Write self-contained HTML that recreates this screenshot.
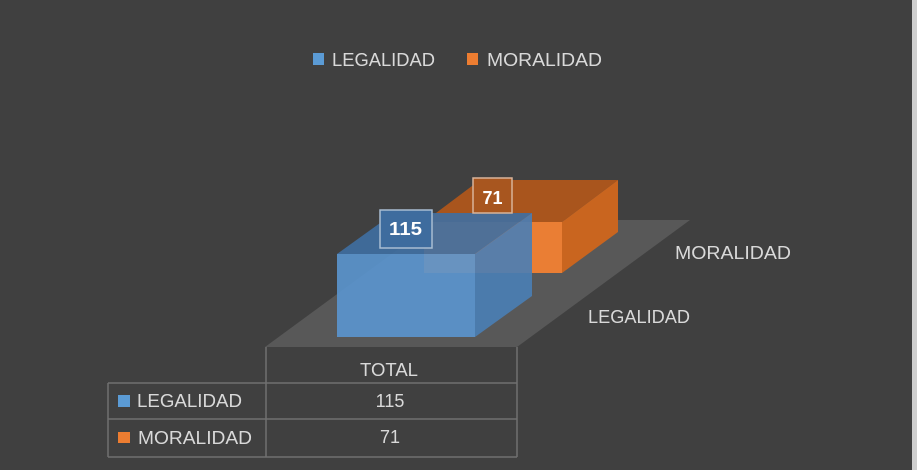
<!DOCTYPE html>
<html><head><meta charset="utf-8"><style>
html,body{margin:0;padding:0;background:#404040;}
svg{display:block;}
text{font-family:"Liberation Sans",sans-serif;}
</style></head><body>
<svg width="917" height="470" viewBox="0 0 917 470" xmlns="http://www.w3.org/2000/svg">
<rect x="0" y="0" width="917" height="470" fill="#404040"/>
<rect x="912" y="0" width="5" height="470" fill="#cfcfcf"/>

<!-- legend -->
<rect x="313" y="53" width="11" height="12" fill="#5b9bd5"/>
<text x="332" y="66" font-size="18" fill="#d9d9d9" textLength="103" lengthAdjust="spacingAndGlyphs">LEGALIDAD</text>
<rect x="467" y="53" width="11" height="12" fill="#ed7d31"/>
<text x="487" y="66" font-size="18" fill="#d9d9d9" textLength="115" lengthAdjust="spacingAndGlyphs">MORALIDAD</text>

<!-- floor -->
<polygon points="265,347 517,347 690,220 438,220" fill="#585858"/>

<!-- orange box -->
<polygon points="424,222 562,222 618,180 480,180" fill="#a9551d"/>
<polygon points="562,222 618,180 618,232 562,273" fill="#c9651f"/>
<rect x="424" y="222" width="138" height="51" fill="#ea7e34"/>

<!-- blue box (semi transparent) -->
<g opacity="0.9">
<polygon points="337,254 475,254 532,213 394,213" fill="#3f6fa2"/>
<polygon points="475,254 532,213 532,296 475,337" fill="#4a7fb6"/>
<rect x="337" y="254" width="138" height="83" fill="#5b96d0"/>
</g>

<!-- data labels -->
<rect x="473" y="178" width="39" height="35" fill="#a8561f" stroke="#d9b49a" stroke-width="1.5"/>
<text x="492.5" y="204" font-size="18" font-weight="bold" fill="#ffffff" text-anchor="middle">71</text>
<rect x="380" y="210" width="52" height="38" fill="#3e6c9e" stroke="#a9bdd2" stroke-width="1.5"/>
<text x="405.5" y="235" font-size="18" font-weight="bold" fill="#ffffff" text-anchor="middle" textLength="33" lengthAdjust="spacingAndGlyphs">115</text>

<!-- category labels -->
<text x="675" y="259" font-size="18" fill="#d9d9d9" textLength="116" lengthAdjust="spacingAndGlyphs">MORALIDAD</text>
<text x="588" y="323" font-size="18" fill="#d9d9d9" textLength="102" lengthAdjust="spacingAndGlyphs">LEGALIDAD</text>

<!-- table -->
<g stroke="#707070" stroke-width="1.5" fill="none">
<line x1="266" y1="347" x2="266" y2="457"/>
<line x1="517" y1="347" x2="517" y2="457"/>
<line x1="108" y1="383" x2="108" y2="457"/>
<line x1="108" y1="383" x2="517" y2="383"/>
<line x1="108" y1="419" x2="517" y2="419"/>
<line x1="108" y1="457" x2="517" y2="457"/>
</g>
<text x="389" y="376" font-size="18" fill="#d9d9d9" text-anchor="middle" textLength="58" lengthAdjust="spacingAndGlyphs">TOTAL</text>
<rect x="118" y="395" width="12" height="12" fill="#5b9bd5"/>
<text x="137" y="407" font-size="18" fill="#d9d9d9" textLength="105" lengthAdjust="spacingAndGlyphs">LEGALIDAD</text>
<text x="390" y="407" font-size="18" fill="#d9d9d9" text-anchor="middle">115</text>
<rect x="118" y="432" width="12" height="11" fill="#ed7d31"/>
<text x="138" y="444" font-size="18" fill="#d9d9d9" textLength="114" lengthAdjust="spacingAndGlyphs">MORALIDAD</text>
<text x="390" y="443" font-size="18" fill="#d9d9d9" text-anchor="middle">71</text>
</svg>
</body></html>
